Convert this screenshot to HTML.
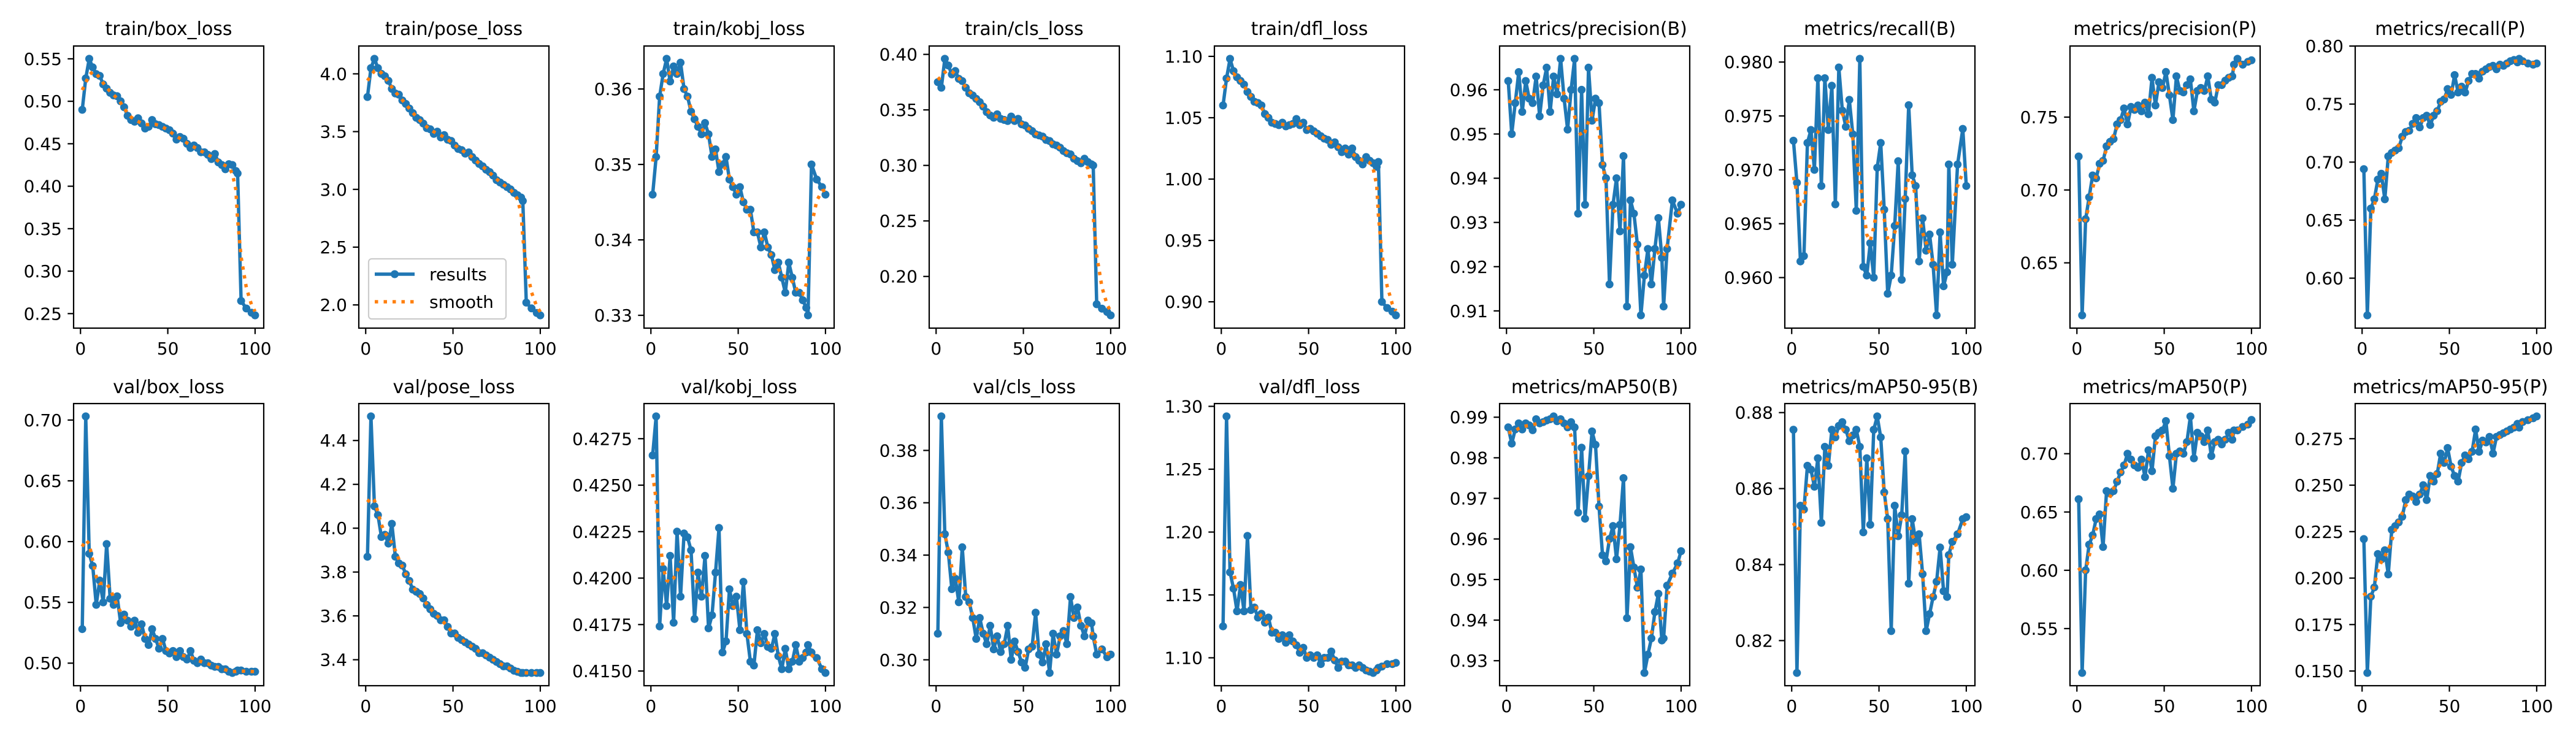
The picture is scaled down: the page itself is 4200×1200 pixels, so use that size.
<!DOCTYPE html>
<html><head><meta charset="utf-8"><style>
html,body{margin:0;padding:0;background:#fff;}
svg{display:block;}
text{font-family:"DejaVu Sans","Liberation Sans",sans-serif;fill:#000;}
</style></head><body>
<svg id="fig" width="4200" height="1200" viewBox="0 0 4200 1200" xmlns="http://www.w3.org/2000/svg"></svg>
<script>
const epochs = [];
for (let e = 1; e <= 89; e += 2) epochs.push(e);
epochs.push(90, 92, 95, 98, 100);

const titles = ["train/box_loss","train/pose_loss","train/kobj_loss","train/cls_loss","train/dfl_loss","metrics/precision(B)","metrics/recall(B)","metrics/precision(P)","metrics/recall(P)",
"val/box_loss","val/pose_loss","val/kobj_loss","val/cls_loss","val/dfl_loss","metrics/mAP50(B)","metrics/mAP50-95(B)","metrics/mAP50(P)","metrics/mAP50-95(P)"];

const trainBox = [0.49,0.527,0.55,0.54,0.532,0.53,0.52,0.515,0.51,0.507, 0.506,0.50,0.493,0.483,0.478,0.476,0.48,0.474,0.468,0.47, 0.478,0.473,0.472,0.47,0.468,0.466,0.462,0.455,0.458,0.456, 0.45,0.445,0.448,0.445,0.44,0.44,0.437,0.432,0.438,0.428, 0.425,0.42,0.426,0.425,0.418,0.415,0.265,0.256,0.251,0.248];
const trainPose = [3.8,4.05,4.13,4.05,4.0,3.98,3.94,3.87,3.83,3.82, 3.77,3.74,3.7,3.66,3.62,3.6,3.57,3.53,3.52,3.48, 3.5,3.45,3.47,3.43,3.42,3.38,3.35,3.34,3.31,3.32, 3.28,3.25,3.22,3.2,3.17,3.15,3.12,3.08,3.06,3.04, 3.02,3.0,2.97,2.95,2.93,2.9,2.02,1.97,1.93,1.91];
const trainKobj = [0.346,0.351,0.359,0.362,0.364,0.361,0.363,0.362,0.3635,0.360, 0.359,0.357,0.356,0.355,0.354,0.3555,0.354,0.351,0.352,0.349, 0.350,0.351,0.348,0.347,0.346,0.347,0.345,0.344,0.344,0.341, 0.341,0.339,0.341,0.339,0.338,0.336,0.337,0.335,0.333,0.337, 0.335,0.333,0.333,0.332,0.331,0.330,0.350,0.348,0.347,0.346];
const trainCls = [0.375,0.37,0.396,0.39,0.382,0.385,0.378,0.376,0.37,0.365, 0.363,0.36,0.357,0.353,0.348,0.345,0.343,0.346,0.342,0.341, 0.34,0.344,0.34,0.342,0.337,0.336,0.333,0.331,0.328,0.327, 0.326,0.323,0.322,0.319,0.318,0.316,0.313,0.311,0.31,0.306, 0.304,0.302,0.306,0.303,0.301,0.30,0.175,0.171,0.168,0.165];
const trainDfl = [1.06,1.082,1.098,1.088,1.083,1.08,1.077,1.071,1.067,1.063, 1.062,1.06,1.053,1.05,1.046,1.045,1.044,1.046,1.043,1.044, 1.045,1.049,1.044,1.046,1.04,1.041,1.039,1.037,1.035,1.033, 1.032,1.028,1.03,1.026,1.022,1.025,1.02,1.025,1.018,1.015, 1.012,1.018,1.015,1.013,1.01,1.014,0.90,0.895,0.892,0.889];
const precB = [0.962,0.950,0.957,0.964,0.955,0.962,0.958,0.957,0.963,0.954, 0.961,0.965,0.955,0.963,0.959,0.967,0.958,0.951,0.960,0.967, 0.932,0.960,0.934,0.965,0.953,0.958,0.957,0.943,0.94,0.916, 0.934,0.94,0.928,0.945,0.911,0.935,0.932,0.925,0.909,0.918, 0.924,0.916,0.924,0.931,0.922,0.911,0.924,0.935,0.932,0.934];
const recB = [0.9727,0.9688,0.9615,0.962,0.9725,0.9737,0.970,0.9785,0.9685,0.9785, 0.9737,0.9778,0.9668,0.9795,0.9755,0.974,0.9765,0.9733,0.9662,0.9803, 0.961,0.9602,0.9632,0.960,0.9702,0.9725,0.9663,0.9585,0.9602,0.9648, 0.9708,0.9598,0.9673,0.976,0.9695,0.9685,0.9615,0.9655,0.9625,0.964, 0.9612,0.9565,0.9642,0.9592,0.9605,0.9705,0.9612,0.9705,0.9738,0.9685];
const precP = [0.723,0.614,0.68,0.695,0.71,0.708,0.718,0.72,0.73,0.733, 0.735,0.745,0.748,0.756,0.745,0.757,0.755,0.758,0.754,0.76, 0.752,0.777,0.758,0.774,0.77,0.781,0.765,0.748,0.778,0.768, 0.767,0.772,0.776,0.754,0.768,0.77,0.768,0.778,0.762,0.76, 0.772,0.772,0.775,0.777,0.778,0.786,0.79,0.786,0.788,0.789];
const recP = [0.694,0.568,0.66,0.668,0.685,0.69,0.668,0.705,0.708,0.71, 0.712,0.722,0.726,0.727,0.733,0.738,0.73,0.738,0.74,0.732, 0.74,0.744,0.752,0.754,0.763,0.758,0.775,0.76,0.765,0.76, 0.77,0.776,0.776,0.772,0.778,0.78,0.782,0.783,0.78,0.784, 0.783,0.785,0.787,0.788,0.786,0.789,0.787,0.785,0.784,0.785];
const valBox = [0.528,0.703,0.59,0.58,0.548,0.568,0.55,0.598,0.553,0.548, 0.555,0.533,0.54,0.535,0.53,0.535,0.525,0.532,0.52,0.515, 0.528,0.52,0.512,0.52,0.51,0.508,0.51,0.505,0.51,0.505, 0.503,0.51,0.502,0.5,0.503,0.5,0.5,0.498,0.497,0.497, 0.495,0.495,0.493,0.492,0.493,0.494,0.494,0.493,0.493,0.493];
const valPose = [3.87,4.51,4.1,4.06,3.96,3.97,3.93,4.02,3.87,3.84, 3.83,3.79,3.76,3.72,3.71,3.7,3.68,3.65,3.63,3.61, 3.6,3.58,3.58,3.55,3.52,3.52,3.5,3.49,3.48,3.47, 3.46,3.45,3.43,3.43,3.42,3.41,3.4,3.39,3.38,3.37, 3.37,3.36,3.35,3.345,3.34,3.34,3.34,3.34,3.34,3.34];
const valKobj = [0.4266,0.4287,0.4174,0.4205,0.4185,0.4212,0.4176,0.4225,0.419,0.4224, 0.4222,0.4215,0.4178,0.4203,0.419,0.4212,0.4173,0.418,0.4203,0.4227, 0.416,0.4166,0.4194,0.4185,0.419,0.4172,0.4198,0.417,0.4155,0.4153, 0.4172,0.4165,0.417,0.4163,0.4162,0.417,0.4158,0.4151,0.4162,0.4151, 0.4155,0.4164,0.4155,0.4157,0.416,0.4164,0.416,0.4157,0.4151,0.4149];
const valCls = [0.31,0.393,0.348,0.341,0.327,0.331,0.322,0.343,0.324,0.322, 0.316,0.308,0.316,0.31,0.306,0.313,0.304,0.309,0.303,0.306, 0.313,0.3,0.307,0.303,0.299,0.297,0.304,0.305,0.318,0.302, 0.299,0.306,0.295,0.31,0.302,0.309,0.311,0.306,0.324,0.316, 0.32,0.313,0.309,0.315,0.314,0.309,0.302,0.304,0.301,0.302];
const valDfl = [1.125,1.292,1.168,1.155,1.137,1.158,1.137,1.197,1.138,1.14, 1.132,1.135,1.128,1.132,1.12,1.12,1.115,1.118,1.112,1.118, 1.113,1.11,1.104,1.108,1.1,1.102,1.1,1.102,1.095,1.1, 1.1,1.105,1.098,1.092,1.097,1.097,1.094,1.094,1.092,1.094, 1.092,1.09,1.089,1.088,1.09,1.092,1.093,1.095,1.095,1.096];
const map50B = [0.9875,0.9835,0.987,0.9885,0.987,0.9885,0.988,0.9868,0.9895,0.9885, 0.9888,0.9892,0.9895,0.9902,0.989,0.9895,0.9885,0.9875,0.9888,0.9875, 0.9665,0.9825,0.965,0.9755,0.9865,0.9832,0.968,0.956,0.9545,0.96, 0.9632,0.955,0.9635,0.975,0.9405,0.958,0.953,0.948,0.9525,0.927, 0.9315,0.9355,0.942,0.9465,0.935,0.9355,0.9485,0.9515,0.954,0.957];
const map5095B = [0.8755,0.8115,0.8555,0.8545,0.866,0.865,0.8605,0.868,0.851,0.871, 0.866,0.8755,0.8735,0.8765,0.8775,0.8755,0.8725,0.874,0.8755,0.871, 0.8485,0.868,0.8505,0.8755,0.879,0.8735,0.859,0.852,0.8225,0.8555, 0.8475,0.853,0.8698,0.835,0.852,0.846,0.848,0.8375,0.8225,0.827, 0.8315,0.8355,0.8445,0.833,0.8315,0.8425,0.846,0.848,0.852,0.8525];
const map50P = [0.661,0.512,0.60,0.622,0.63,0.644,0.648,0.62,0.668,0.666, 0.668,0.676,0.684,0.69,0.7,0.695,0.69,0.688,0.695,0.68, 0.703,0.685,0.715,0.718,0.72,0.728,0.698,0.67,0.7,0.702, 0.7,0.71,0.732,0.696,0.718,0.715,0.71,0.72,0.698,0.71, 0.712,0.708,0.712,0.718,0.712,0.72,0.72,0.723,0.725,0.729];
const map5095P = [0.221,0.149,0.19,0.195,0.213,0.21,0.215,0.202,0.226,0.228, 0.23,0.233,0.242,0.245,0.244,0.241,0.245,0.25,0.242,0.255, 0.252,0.256,0.267,0.262,0.27,0.26,0.255,0.252,0.262,0.266, 0.264,0.268,0.28,0.268,0.274,0.273,0.276,0.267,0.276,0.277, 0.278,0.279,0.28,0.281,0.283,0.281,0.284,0.285,0.286,0.287];

const seriesList = [trainBox,trainPose,trainKobj,trainCls,trainDfl,precB,recB,precP,recP,valBox,valPose,valKobj,valCls,valDfl,map50B,map5095B,map50P,map5095P];

const yTicks = [
 ["0.25","0.30","0.35","0.40","0.45","0.50","0.55"],
 ["2.0","2.5","3.0","3.5","4.0"],
 ["0.33","0.34","0.35","0.36"],
 ["0.20","0.25","0.30","0.35","0.40"],
 ["0.90","0.95","1.00","1.05","1.10"],
 ["0.91","0.92","0.93","0.94","0.95","0.96"],
 ["0.960","0.965","0.970","0.975","0.980"],
 ["0.65","0.70","0.75","0.80"],
 ["0.60","0.65","0.70","0.75","0.80"],
 ["0.50","0.55","0.60","0.65","0.70"],
 ["3.4","3.6","3.8","4.0","4.2","4.4"],
 ["0.4150","0.4175","0.4200","0.4225","0.4250","0.4275"],
 ["0.30","0.32","0.34","0.36","0.38"],
 ["1.10","1.15","1.20","1.25","1.30"],
 ["0.93","0.94","0.95","0.96","0.97","0.98","0.99"],
 ["0.82","0.84","0.86","0.88"],
 ["0.55","0.60","0.65","0.70"],
 ["0.150","0.175","0.200","0.225","0.250","0.275"]
];
const xTicks = ["0","50","100"];

const NS = "http://www.w3.org/2000/svg";
const fig = document.getElementById("fig");
function mk(tag, attrs, parent) {
  const el = document.createElementNS(NS, tag);
  for (const k in attrs) el.setAttribute(k, attrs[k]);
  (parent || fig).appendChild(el);
  return el;
}
function gauss(y, sigma) {
  const r = Math.ceil(sigma * 4), w = [];
  let s = 0;
  for (let k = -r; k <= r; k++) { const v = Math.exp(-k * k / (2 * sigma * sigma)); w.push(v); s += v; }
  const n = y.length;
  return y.map((_, i) => {
    let acc = 0;
    for (let k = -r; k <= r; k++) {
      let j = i + k;
      if (j < 0) j = -j - 1;
      if (j >= n) j = 2 * n - j - 1;
      j = Math.max(0, Math.min(n - 1, j));
      acc += w[k + r] * y[j];
    }
    return acc / s;
  });
}

const AX_W = 310, AX_H = 460;
const X_MIN = -3.95, X_MAX = 104.95;
const BLUE = "#1f77b4", ORANGE = "#ff7f0e";

seriesList.forEach((vals, p) => {
  const row = Math.floor(p / 9), col = p % 9;
  const L = 120 + 465 * col;
  const T = row === 0 ? 75 : 658;
  const B = T + AX_H;
  const smooth = gauss(vals, 1.5);
  const all = vals.concat(smooth);
  let lo = Math.min(...all), hi = Math.max(...all);
  const pad = (hi - lo) * 0.05; lo -= pad; hi += pad;
  const xs = e => L + (e - X_MIN) / (X_MAX - X_MIN) * AX_W;
  const ys = v => B - (v - lo) / (hi - lo) * AX_H;

  const g = mk("g", {});
  
  

  const title = mk("text", {x: L + AX_W / 2, y: row === 0 ? 57 : 641, "text-anchor": "middle", "font-size": "30"}, g);
  title.textContent = titles[p];
  
  

  // results line
  const pts = vals.map((v, i) => xs(epochs[i]).toFixed(1) + "," + ys(v).toFixed(1)).join(" ");
  const line = mk("polyline", {points: pts, fill: "none", stroke: BLUE, "stroke-width": "5.5", "stroke-linejoin": "round"}, g);
  
  
  vals.forEach((v, i) => {
    const c = mk("circle", {cx: xs(epochs[i]).toFixed(1), cy: ys(v).toFixed(1), r: "6.5", fill: BLUE}, g);
    
    
  });
  // smooth line
  const spts = smooth.map((v, i) => xs(epochs[i]).toFixed(1) + "," + ys(v).toFixed(1)).join(" ");
  const sl = mk("polyline", {points: spts, fill: "none", stroke: ORANGE, "stroke-width": "5.5", "stroke-dasharray": "5.5 9"}, g);
  
  

  // axes frame
  const fr = mk("rect", {x: L, y: T, width: AX_W, height: AX_H, fill: "none", stroke: "#000", "stroke-width": "2.2"}, g);
  
  

  // y ticks
  yTicks[p].forEach(t => {
    const v = parseFloat(t);
    if (v < lo || v > hi) return;
    const y = ys(v);
    mk("line", {x1: L, x2: L - 9.7, y1: y, y2: y, stroke: "#000", "stroke-width": "2.2"}, g);
    const tl = mk("text", {x: L - 19, y: y + 10, "text-anchor": "end", "font-size": "28"}, g);
    tl.textContent = t;
    
    
  });
  // x ticks
  xTicks.forEach(t => {
    const x = xs(parseFloat(t));
    mk("line", {x1: x, x2: x, y1: B, y2: B + 9.7, stroke: "#000", "stroke-width": "2.2"}, g);
    const tl = mk("text", {x: x, y: B + 43, "text-anchor": "middle", "font-size": "28"}, g);
    tl.textContent = t;
    
    
  });

  if (p === 1) {
    const lg = mk("g", {}, g);
    
    
    mk("rect", {x: 601, y: 422, width: 224, height: 98, rx: 5, fill: "#fff", "fill-opacity": "0.8", stroke: "#cccccc", "stroke-width": "2.2"}, lg);
    mk("line", {x1: 611, x2: 676, y1: 447, y2: 447, stroke: BLUE, "stroke-width": "5.5"}, lg);
    mk("circle", {cx: 643.5, cy: 447, r: 6.5, fill: BLUE}, lg);
    const t1 = mk("text", {x: 700, y: 457, "font-size": "28"}, lg);
    t1.textContent = "results";
    
    
    mk("line", {x1: 611, x2: 676, y1: 492, y2: 492, stroke: ORANGE, "stroke-width": "5.5", "stroke-dasharray": "5.5 9"}, lg);
    const t2 = mk("text", {x: 700, y: 502, "font-size": "28"}, lg);
    t2.textContent = "smooth";
    
    
  }
});
</script>
</body></html>
